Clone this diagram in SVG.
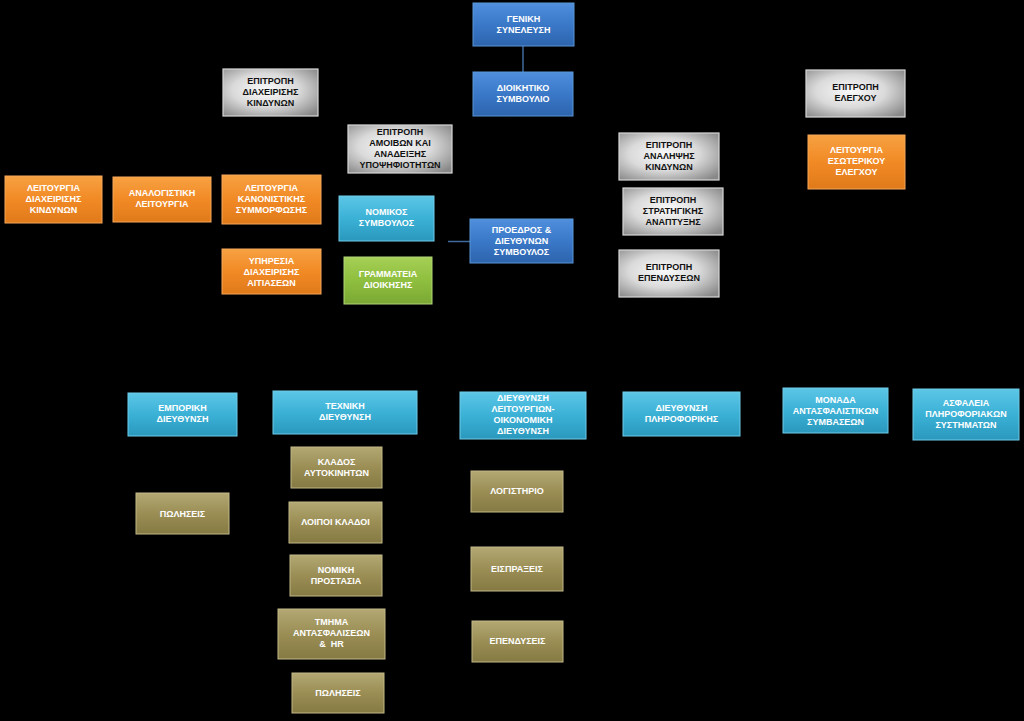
<svg xmlns="http://www.w3.org/2000/svg" width="1024" height="721" viewBox="0 0 1024 721">
<defs>
<linearGradient id="gBlue" x1="0" y1="0" x2="0" y2="1"><stop offset="0" stop-color="#4f8fdc"/><stop offset="0.5" stop-color="#3a78c8"/><stop offset="1" stop-color="#2d64ad"/></linearGradient>
<linearGradient id="gCyan" x1="0" y1="0" x2="0" y2="1"><stop offset="0" stop-color="#5cc6e6"/><stop offset="0.5" stop-color="#3bb1d6"/><stop offset="1" stop-color="#2b98bd"/></linearGradient>
<linearGradient id="gOrange" x1="0" y1="0" x2="0" y2="1"><stop offset="0" stop-color="#f7a142"/><stop offset="0.5" stop-color="#f18a25"/><stop offset="1" stop-color="#e07a1a"/></linearGradient>
<linearGradient id="gGreen" x1="0" y1="0" x2="0" y2="1"><stop offset="0" stop-color="#a5cf55"/><stop offset="0.5" stop-color="#8fbf3f"/><stop offset="1" stop-color="#7aa834"/></linearGradient>
<linearGradient id="gOlive" x1="0" y1="0" x2="0" y2="1"><stop offset="0" stop-color="#b3a873"/><stop offset="0.5" stop-color="#9a8e55"/><stop offset="1" stop-color="#867a44"/></linearGradient>
<radialGradient id="gGray" cx="0.45" cy="0.45" r="0.7"><stop offset="0" stop-color="#fafafa"/><stop offset="0.5" stop-color="#dadada"/><stop offset="1" stop-color="#888888"/></radialGradient>
</defs>
<style>
.blue{fill:url(#gBlue);stroke:#5b95d6;stroke-width:1}
.cyan{fill:url(#gCyan);stroke:#6fcbe8;stroke-width:1}
.orange{fill:url(#gOrange);stroke:#f5a75a;stroke-width:1}
.green{fill:url(#gGreen);stroke:#b2d67a;stroke-width:1}
.olive{fill:url(#gOlive);stroke:#c2b888;stroke-width:1}
.gray{fill:url(#gGray);stroke:#d8d8d8;stroke-width:1.2}
text{font-family:"Liberation Sans",Arial,sans-serif;font-size:9px;font-weight:bold;text-anchor:middle}
.w{fill:#ffffff}
.k{fill:#111111}
.conn{stroke:#3f6a9c;stroke-width:1.5;fill:none}
</style>
<rect width="1024" height="721" fill="#000000"/>
<g id="connectors">
<line class="conn" x1="523" y1="46" x2="523" y2="72"/>
<line class="conn" x1="448" y1="241.5" x2="470" y2="241.5"/>
</g>
<g id="n_geniki"><rect class="blue" x="473" y="3" width="101" height="43"/><text class="w" x="523.5" y="22">ΓΕΝΙΚΗ<tspan x="523.5" dy="11">ΣΥΝΕΛΕΥΣΗ</tspan></text></g>
<g id="n_dioikitiko"><rect class="blue" x="473" y="72" width="100" height="44"/><text class="w" x="523" y="91">ΔΙΟΙΚΗΤΙΚΟ<tspan x="523" dy="11">ΣΥΜΒΟΥΛΙΟ</tspan></text></g>
<g id="n_ep_diax"><rect class="gray" x="223" y="69" width="95" height="47"/><text class="k" x="270.5" y="84">ΕΠΙΤΡΟΠΗ<tspan x="270.5" dy="11">ΔΙΑΧΕΙΡΙΣΗΣ</tspan><tspan x="270.5" dy="11">ΚΙΝΔΥΝΩΝ</tspan></text></g>
<g id="n_ep_amoivon"><rect class="gray" x="348" y="125" width="104" height="48"/><text class="k" x="400" y="135">ΕΠΙΤΡΟΠΗ<tspan x="400" dy="11">ΑΜΟΙΒΩΝ ΚΑΙ</tspan><tspan x="400" dy="11">ΑΝΑΔΕΙΞΗΣ</tspan><tspan x="400" dy="11">ΥΠΟΨΗΦΙΟΤΗΤΩΝ</tspan></text></g>
<g id="n_leit_diax"><rect class="orange" x="5" y="176" width="97" height="47"/><text class="w" x="53.5" y="191">ΛΕΙΤΟΥΡΓΙΑ<tspan x="53.5" dy="11">ΔΙΑΧΕΙΡΙΣΗΣ</tspan><tspan x="53.5" dy="11">ΚΙΝΔΥΝΩΝ</tspan></text></g>
<g id="n_analogistiki"><rect class="orange" x="113" y="177" width="98" height="45"/><text class="w" x="162" y="196">ΑΝΑΛΟΓΙΣΤΙΚΗ<tspan x="162" dy="11">ΛΕΙΤΟΥΡΓΙΑ</tspan></text></g>
<g id="n_kanonistikis"><rect class="orange" x="222" y="175" width="99" height="49"/><text class="w" x="271.5" y="191">ΛΕΙΤΟΥΡΓΙΑ<tspan x="271.5" dy="11">ΚΑΝΟΝΙΣΤΙΚΗΣ</tspan><tspan x="271.5" dy="11">ΣΥΜΜΟΡΦΩΣΗΣ</tspan></text></g>
<g id="n_nomikos"><rect class="cyan" x="339" y="196" width="95" height="45"/><text class="w" x="386.5" y="215">ΝΟΜΙΚΟΣ<tspan x="386.5" dy="11">ΣΥΜΒΟΥΛΟΣ</tspan></text></g>
<g id="n_ypiresia"><rect class="orange" x="222" y="249" width="99" height="45"/><text class="w" x="271.5" y="264">ΥΠΗΡΕΣΙΑ<tspan x="271.5" dy="11">ΔΙΑΧΕΙΡΙΣΗΣ</tspan><tspan x="271.5" dy="11">ΑΙΤΙΑΣΕΩΝ</tspan></text></g>
<g id="n_grammateia"><rect class="green" x="344" y="257" width="88" height="47"/><text class="w" x="388" y="277">ΓΡΑΜΜΑΤΕΙΑ<tspan x="388" dy="11">ΔΙΟΙΚΗΣΗΣ</tspan></text></g>
<g id="n_proedros"><rect class="blue" x="470" y="219" width="103" height="44"/><text class="w" x="521.5" y="233">ΠΡΟΕΔΡΟΣ &amp;<tspan x="521.5" dy="11">ΔΙΕΥΘΥΝΩΝ</tspan><tspan x="521.5" dy="11">ΣΥΜΒΟΥΛΟΣ</tspan></text></g>
<g id="n_ep_analipsis"><rect class="gray" x="619" y="133" width="100" height="47"/><text class="k" x="669" y="148">ΕΠΙΤΡΟΠΗ<tspan x="669" dy="11">ΑΝΑΛΗΨΗΣ</tspan><tspan x="669" dy="11">ΚΙΝΔΥΝΩΝ</tspan></text></g>
<g id="n_ep_strat"><rect class="gray" x="623" y="188" width="100" height="47"/><text class="k" x="673" y="203">ΕΠΙΤΡΟΠΗ<tspan x="673" dy="11">ΣΤΡΑΤΗΓΙΚΗΣ</tspan><tspan x="673" dy="11">ΑΝΑΠΤΥΞΗΣ</tspan></text></g>
<g id="n_ep_ependyseon"><rect class="gray" x="619" y="250" width="100" height="47"/><text class="k" x="669" y="270">ΕΠΙΤΡΟΠΗ<tspan x="669" dy="11">ΕΠΕΝΔΥΣΕΩΝ</tspan></text></g>
<g id="n_ep_elegxou"><rect class="gray" x="806" y="70" width="99" height="47"/><text class="k" x="855.5" y="90">ΕΠΙΤΡΟΠΗ<tspan x="855.5" dy="11">ΕΛΕΓΧΟΥ</tspan></text></g>
<g id="n_esoterikou"><rect class="orange" x="808" y="135" width="97" height="54"/><text class="w" x="856.5" y="153">ΛΕΙΤΟΥΡΓΙΑ<tspan x="856.5" dy="11">ΕΣΩΤΕΡΙΚΟΥ</tspan><tspan x="856.5" dy="11">ΕΛΕΓΧΟΥ</tspan></text></g>
<g id="n_emporiki"><rect class="cyan" x="128" y="393" width="109" height="43"/><text class="w" x="182.5" y="411">ΕΜΠΟΡΙΚΗ<tspan x="182.5" dy="11">ΔΙΕΥΘΥΝΣΗ</tspan></text></g>
<g id="n_texniki"><rect class="cyan" x="273" y="391" width="144" height="43"/><text class="w" x="345" y="409">ΤΕΧΝΙΚΗ<tspan x="345" dy="11">ΔΙΕΥΘΥΝΣΗ</tspan></text></g>
<g id="n_leitourgion"><rect class="cyan" x="460" y="392" width="126" height="47"/><text class="w" x="523" y="401">ΔΙΕΥΘΥΝΣΗ<tspan x="523" dy="11">ΛΕΙΤΟΥΡΓΙΩΝ-</tspan><tspan x="523" dy="11">ΟΙΚΟΝΟΜΙΚΗ</tspan><tspan x="523" dy="11">ΔΙΕΥΘΥΝΣΗ</tspan></text></g>
<g id="n_pliroforikis"><rect class="cyan" x="623" y="392" width="117" height="44"/><text class="w" x="681.5" y="411">ΔΙΕΥΘΥΝΣΗ<tspan x="681.5" dy="11">ΠΛΗΡΟΦΟΡΙΚΗΣ</tspan></text></g>
<g id="n_monada"><rect class="cyan" x="783" y="388" width="105" height="45"/><text class="w" x="835.5" y="403">ΜΟΝΑΔΑ<tspan x="835.5" dy="11">ΑΝΤΑΣΦΑΛΙΣΤΙΚΩΝ</tspan><tspan x="835.5" dy="11">ΣΥΜΒΑΣΕΩΝ</tspan></text></g>
<g id="n_asfaleia"><rect class="cyan" x="913" y="389" width="106" height="51"/><text class="w" x="966" y="406">ΑΣΦΑΛΕΙΑ<tspan x="966" dy="11">ΠΛΗΡΟΦΟΡΙΑΚΩΝ</tspan><tspan x="966" dy="11">ΣΥΣΤΗΜΑΤΩΝ</tspan></text></g>
<g id="n_poliseis1"><rect class="olive" x="136" y="493" width="93" height="41"/><text class="w" x="182.5" y="517">ΠΩΛΗΣΕΙΣ</text></g>
<g id="n_klados"><rect class="olive" x="291" y="447" width="91" height="41"/><text class="w" x="336.5" y="465">ΚΛΑΔΟΣ<tspan x="336.5" dy="11">ΑΥΤΟΚΙΝΗΤΩΝ</tspan></text></g>
<g id="n_loipoi"><rect class="olive" x="289" y="502" width="93" height="41"/><text class="w" x="335.5" y="525">ΛΟΙΠΟΙ ΚΛΑΔΟΙ</text></g>
<g id="n_nomiki"><rect class="olive" x="290" y="555" width="92" height="41"/><text class="w" x="336" y="573">ΝΟΜΙΚΗ<tspan x="336" dy="11">ΠΡΟΣΤΑΣΙΑ</tspan></text></g>
<g id="n_tmima"><rect class="olive" x="278" y="609" width="107" height="50"/><text class="w" x="331.5" y="625">ΤΜΗΜΑ<tspan x="331.5" dy="11">ΑΝΤΑΣΦΑΛΙΣΕΩΝ</tspan><tspan x="331.5" dy="11">&amp;&#160; HR</tspan></text></g>
<g id="n_poliseis2"><rect class="olive" x="292" y="673" width="92" height="40"/><text class="w" x="338" y="696">ΠΩΛΗΣΕΙΣ</text></g>
<g id="n_logistirio"><rect class="olive" x="471" y="471" width="92" height="41"/><text class="w" x="517" y="494">ΛΟΓΙΣΤΗΡΙΟ</text></g>
<g id="n_eispraxeis"><rect class="olive" x="471" y="547" width="92" height="44"/><text class="w" x="517" y="572">ΕΙΣΠΡΑΞΕΙΣ</text></g>
<g id="n_ependyseis"><rect class="olive" x="472" y="621" width="91" height="41"/><text class="w" x="517.5" y="644">ΕΠΕΝΔΥΣΕΙΣ</text></g>
</svg>
